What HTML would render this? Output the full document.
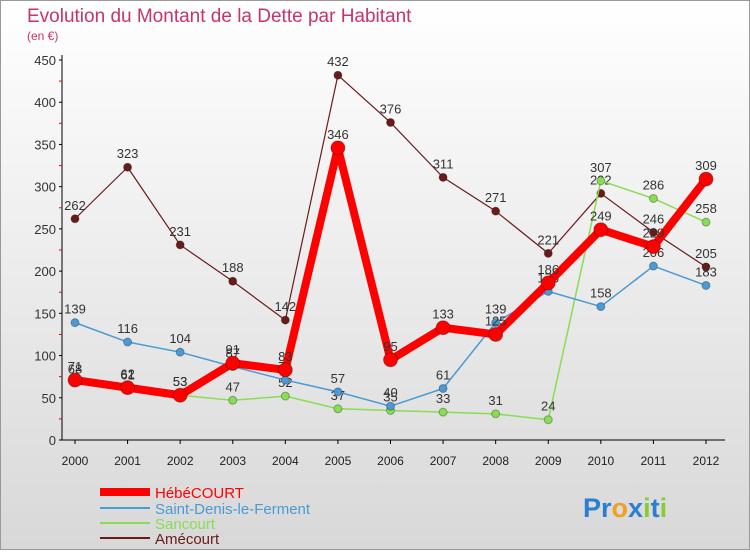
<!DOCTYPE html>
<html><head><meta charset="utf-8"><style>
body{margin:0;width:750px;height:550px;overflow:hidden;font-family:"Liberation Sans",sans-serif}
</style></head><body>
<svg id="chart" width="750" height="550" xmlns="http://www.w3.org/2000/svg" font-family="Liberation Sans, sans-serif">
<defs><linearGradient id="bg" x1="0" y1="0" x2="0" y2="1"><stop offset="0" stop-color="#ffffff"/><stop offset="1" stop-color="#d8d8d8"/></linearGradient></defs>
<rect x="0.5" y="0.5" width="749" height="549" fill="url(#bg)" stroke="#999"/>
<text x="27" y="22" font-size="19" fill="#c8336d">Evolution du Montant de la Dette par Habitant</text>
<text x="27" y="40" font-size="12" fill="#c8336d">(en €)</text>
<g id="axes"></g><g id="series"></g>
<g font-size="15">
<line x1="100" y1="492" x2="150" y2="492" stroke="#ff0000" stroke-width="8"/>
<text x="155" y="498" fill="#ff0000">HébéCOURT</text>
<line x1="100" y1="508" x2="150" y2="508" stroke="#4a9ad4" stroke-width="2"/>
<text x="155" y="514" fill="#4a9ad4">Saint-Denis-le-Ferment</text>
<line x1="100" y1="523" x2="150" y2="523" stroke="#88dd55" stroke-width="2"/>
<text x="155" y="529" fill="#88dd55">Sancourt</text>
<line x1="100" y1="538" x2="150" y2="538" stroke="#6b1a1a" stroke-width="2"/>
<text x="155" y="544" fill="#6b1a1a">Amécourt</text>
</g>
<text x="583" y="517" font-size="27" font-weight="bold"><tspan fill="#2a7fd0">Pr</tspan><tspan fill="#f0a020">o</tspan><tspan fill="#2a7fd0">x</tspan><tspan fill="#88cc33">i</tspan><tspan fill="#2a7fd0">t</tspan><tspan fill="#88cc33">i</tspan></text>
</svg>
<script>
const years=[2000,2001,2002,2003,2004,2005,2006,2007,2008,2009,2010,2011,2012];
const yTicks=[0,50,100,150,200,250,300,350,400,450];
const hebecourt=[71,62,53,91,83,346,95,133,125,186,249,229,309];
const saintDenis=[139,116,104,87,71,57,40,61,139,176,158,206,183];
const sancourt=[68,61,53,47,52,37,35,33,31,24,307,286,258];
const amecourt=[262,323,231,188,142,432,376,311,271,221,292,246,205];
const NS="http://www.w3.org/2000/svg";
const x=i=>75+i*(706-75)/(years.length-1);
const y=v=>440-v*(380/450);
function mk(tag,attrs,parent){const e=document.createElementNS(NS,tag);for(const k in attrs)e.setAttribute(k,attrs[k]);parent.appendChild(e);return e;}
const ax=document.getElementById('axes');
const yl=mk('line',{x1:62,y1:55,x2:62,y2:440,stroke:'#000'},ax);


const xl=mk('line',{x1:62,y1:440,x2:725,y2:440,stroke:'#000'},ax);


yTicks.forEach(t=>{
 const tx=mk('text',{x:56,y:y(t)+5,'font-size':13,fill:'#333','text-anchor':'end'},ax);tx.textContent=t;
 
 
 mk('line',{x1:59,y1:y(t),x2:62,y2:y(t),stroke:'#000'},ax);
 if(t<450)mk('line',{x1:59,y1:y(t+25),x2:62,y2:y(t+25),stroke:'#e00'},ax);
});
years.forEach((yr,i)=>{
 const tx=mk('text',{x:x(i),y:465,'font-size':12,fill:'#222','text-anchor':'middle'},ax);tx.textContent=yr;
 
 
 mk('line',{x1:x(i),y1:440,x2:x(i),y2:444,stroke:'#000'},ax);
});
const sg=document.getElementById('series');
function draw(data,color,w,r,name){
 const g=mk('g',{},sg);
 
 
 const p=mk('polyline',{points:data.map((v,i)=>x(i)+','+y(v)).join(' '),fill:'none',stroke:color,'stroke-width':w,'stroke-linejoin':'round'},g);
 
 
 data.forEach((v,i)=>{
  const c=mk('circle',{cx:x(i),cy:y(v),r:r,fill:color,stroke:'rgba(0,0,0,0.3)','stroke-width':1},g);
  
  
  const t=mk('text',{x:x(i),y:y(v)-9,'font-size':13,fill:'#333','text-anchor':'middle'},g);t.textContent=v;
  
  
 });
}
draw(amecourt,'#6b1a1a',1.2,4,'amecourt');
draw(sancourt,'#88dd55',1.5,4,'sancourt');
draw(saintDenis,'#4a9ad4',1.5,4,'saint-denis');
draw(hebecourt,'#ff0000',8,7,'hebecourt');
</script>
</body></html>
